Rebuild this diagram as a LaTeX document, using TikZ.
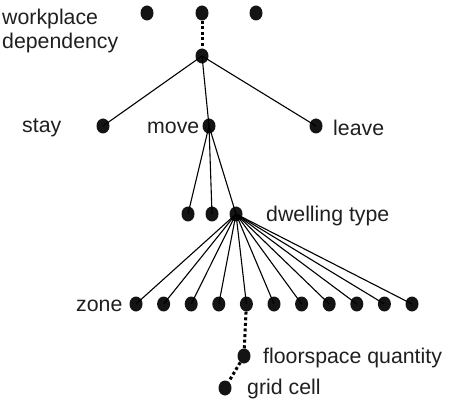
\documentclass[tikz,border=0pt]{standalone}
\usepackage{fontspec}
\setmainfont{Liberation Sans}
\usetikzlibrary{shapes.geometric}
\begin{document}
\begin{tikzpicture}[x=1pt,y=-1pt,
    leaf/.style ={ellipse, fill=black!92, inner sep=0pt, minimum width=13pt, minimum height=15pt},
    branch/.style ={line width=1.1pt},
    chain/.style ={line width=3pt, dash pattern=on 3pt off 2.6pt},
    caption/.style ={font=\fontsize{21.3}{24}\selectfont, inner sep=0pt, text=black!88}]
   \useasboundingbox (0,0) rectangle (449,403);
   % top level
   \node[leaf] (w1) at (147,13) {};
   \node[leaf] (w2) at (202,13) {};
   \node[leaf] (w3) at (256,13) {};
   \node[leaf] (hub) at (202,56) {};
   \node[caption, anchor=west, align=left] (lwork) at (2,31) {workplace\\dependency};
   \draw[chain] (w2) to (hub);
   % stay / move / leave
   \node[leaf] (stay) at (103,126) {};
   \node[leaf] (move) at (209,126) {};
   \node[leaf] (leave) at (316,126) {};
   \node[caption, anchor=west] (lstay) at (22,128) {stay};
   \node[caption, anchor=west] (lmove) at (147,128) {move};
   \node[caption, anchor=west] (lleave) at (333,128) {leave};
   \draw[branch] (hub.center) to (stay.center);
   \draw[branch] (hub.center) to (move.center);
   \draw[branch] (hub.center) to (leave.center);
   % dwelling types
   \node[leaf] (d1) at (188,214) {};
   \node[leaf] (d2) at (212,214) {};
   \node[leaf] (d3) at (236,214) {};
   \node[caption, anchor=west] (ldwell) at (266,216) {dwelling type};
   \foreach \i in {1,2,3}
     \draw[branch] (move.center) to (d\i.center);
   % zones
   \foreach \i in {1,...,11} {
     \node[leaf] (z\i) at ({136+27.6*(\i-1)},304) {};
     \draw[branch] (d3.center) to (z\i.center);
   }
   \node[caption, anchor=west] (lzone) at (76,306) {zone};
   % floorspace and grid cell
   \node[leaf] (fq) at (244,356) {};
   \node[leaf] (gc) at (225,388) {};
   \node[caption, anchor=west] (lfq) at (263,358) {floorspace quantity};
   \node[caption, anchor=west] (lgc) at (247,389) {grid cell};
   \draw[chain] (z5) to (fq);
   \draw[chain] (fq) to (gc);
 \end{tikzpicture}
\end{document}
